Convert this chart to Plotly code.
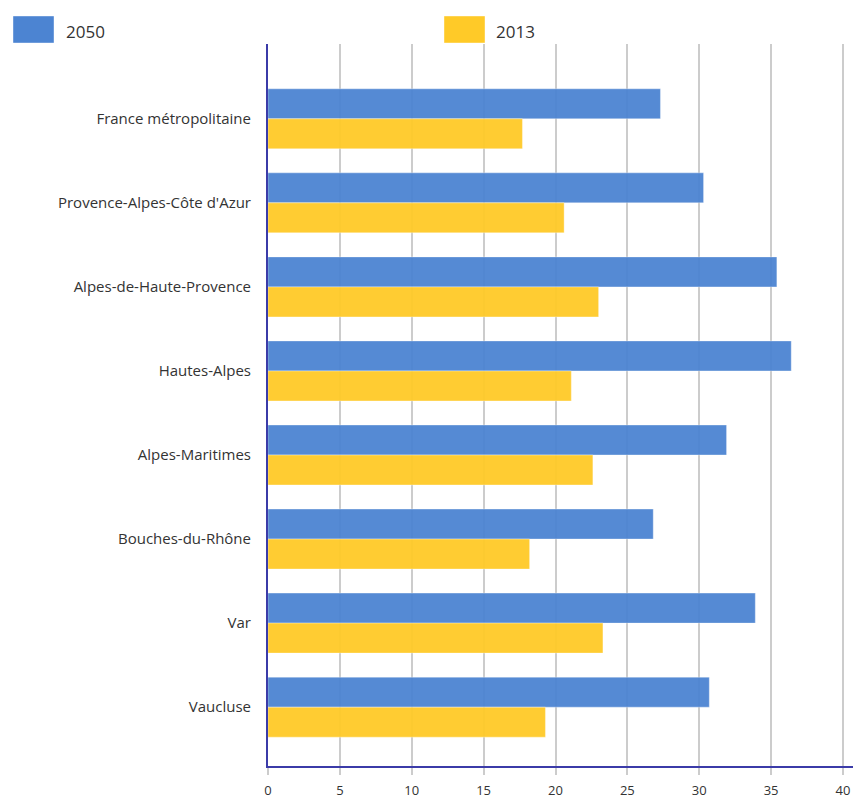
import plotly.graph_objects as go

# Territories (top to bottom) and values for each year
categories = [
    "France métropolitaine",
    "Provence-Alpes-Côte d'Azur",
    "Alpes-de-Haute-Provence",
    "Hautes-Alpes",
    "Alpes-Maritimes",
    "Bouches-du-Rhône",
    "Var",
    "Vaucluse",
]
series_names = ["2050", "2013"]
values_2050 = [27.3, 30.3, 35.4, 36.4, 31.9, 26.8, 33.9, 30.7]
values_2013 = [17.7, 20.6, 23.0, 21.1, 22.6, 18.2, 23.3, 19.3]
x_ticks = [0, 5, 10, 15, 20, 25, 30, 35, 40]

colors = ["#4c84d2", "#ffca28"]
W, H = 853, 798
L, T, B = 268, 44, 32
FONT = "Open Sans, Segoe UI, Arial, sans-serif"

positions = list(range(len(categories)))

fig = go.Figure()
for name, vals, col in zip(series_names, [values_2050, values_2013], colors):
    fig.add_trace(go.Bar(
        y=positions, x=vals, name=name, orientation="h",
        marker=dict(color=col, opacity=0.95,
                    line=dict(color="rgba(255,255,255,0.35)", width=1)),
        showlegend=False,
    ))


def px_x(x):
    return (x - L) / (W - L)


def px_y(y):
    return (H - B - y) / (H - B - T)


# Legend drawn as large swatches with labels along the top
legend_pos = [(13, 66), (444, 496)]
for (sx, tx), name, col in zip(legend_pos, series_names, colors):
    fig.add_shape(type="rect", xref="paper", yref="paper",
                  x0=px_x(sx), x1=px_x(sx + 41),
                  y0=px_y(43), y1=px_y(16),
                  fillcolor=col, line=dict(width=1, color="rgba(255,255,255,0.4)"))
    fig.add_annotation(xref="paper", yref="paper",
                       x=px_x(tx), y=px_y(31),
                       text=name, showarrow=False, xanchor="left", yanchor="middle",
                       xshift=-2,
                       font=dict(family=FONT, size=17, color="#333333"))

x_max = 40 * (W - L) / 575

fig.update_layout(
    width=W, height=H,
    margin=dict(l=L, r=0, t=T, b=B),
    paper_bgcolor="white", plot_bgcolor="white",
    barmode="group", bargap=0.286, bargroupgap=0,
    font=dict(family=FONT, size=13, color="#333333"),
    xaxis=dict(
        range=[0, x_max], tickvals=x_ticks, ticktext=[str(t) for t in x_ticks],
        showgrid=True, gridcolor="#cccccc", gridwidth=1.5,
        ticks="outside", ticklen=7, tickcolor="#cccccc", tickwidth=1.5,
        showline=True, linecolor="#3b3ba8", linewidth=2,
        zeroline=False, ticklabelstandoff=4,
        tickfont=dict(size=13, color="#333333"),
    ),
    yaxis=dict(
        range=[7.70, -0.89], tickvals=positions, ticktext=categories,
        showgrid=False, zeroline=False,
        showline=True, linecolor="#3b3ba8", linewidth=2,
        ticks="", ticklabelstandoff=12,
        tickfont=dict(size=15, color="#333333"),
    ),
)

fig.write_html("out.html")
